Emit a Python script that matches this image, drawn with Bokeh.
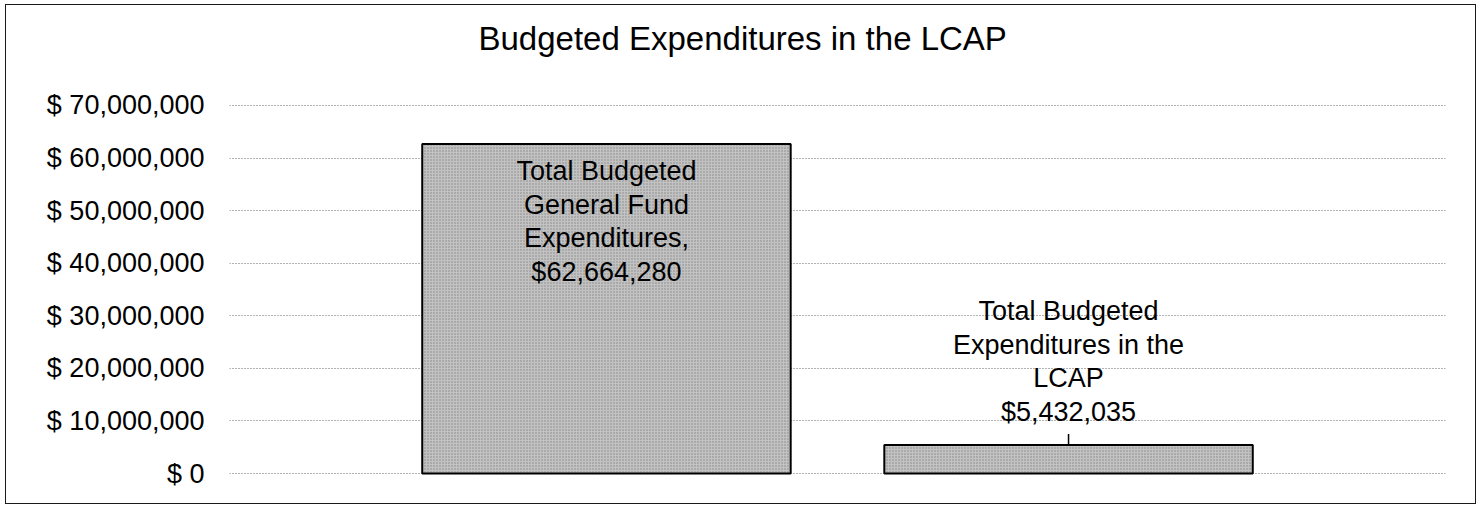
from bokeh.plotting import figure
from bokeh.models import Range1d, FixedTicker, ColumnDataSource, Title
from bokeh.core.properties import value
from bokeh.embed import file_html
from bokeh.resources import INLINE

# ---------------- data ----------------
title_text = "Budgeted Expenditures in the LCAP"
categories = ["Total Budgeted General Fund Expenditures",
              "Total Budgeted Expenditures in the LCAP"]
amounts = [62664280, 5432035]
label_lines = [["Total Budgeted", "General Fund", "Expenditures,"],
               ["Total Budgeted", "Expenditures in the", "LCAP"]]
tick_values = [0, 10000000, 20000000, 30000000, 40000000, 50000000, 60000000, 70000000]
tick_labels = ["$ 0", "$ 10,000,000", "$ 20,000,000", "$ 30,000,000",
               "$ 40,000,000", "$ 50,000,000", "$ 60,000,000", "$ 70,000,000"]

# ---------------- layout / style ----------------
W, H = 1471, 500
PAD = 2                      # px of padding above/below the 0..max grid
GRID_H = 369                 # px between $0 and the top gridline
MB_L, MB_R, MB_T = 223, 32, 97
frame_h = GRID_H + 2 * PAD
MB_B = H - MB_T - frame_h
y_max = tick_values[-1]
px_to_data = y_max / GRID_H
bar_pos = [0.31, 0.69]
bar_width = 0.303
FONT = "Liberation Sans"
label_baseline = ["top", "bottom"]
label_offset = [12, -18]
leader_px = [0, 11]

p = figure(width=W, height=H, x_range=Range1d(0, 1),
           y_range=Range1d(-PAD * px_to_data, y_max + PAD * px_to_data),
           output_backend="svg", toolbar_location=None, title_location=None,
           min_border_left=MB_L, min_border_right=MB_R,
           min_border_top=MB_T, min_border_bottom=MB_B)
p.styles = {"border": "1.5px solid #1a1a1a", "margin-left": "5px", "margin-top": "4px"}
p.outline_line_color = None
p.background_fill_color = "white"
p.border_fill_color = "white"

# spacer between title and plot area, then the title itself
p.add_layout(Title(text=" ", text_font_size="1px", standoff=32), "above")
p.add_layout(Title(text=title_text, text_font=FONT, text_font_size="33px",
                   text_font_style="normal", text_color="black",
                   align="left", offset=249, standoff=24), "above")

p.xaxis.visible = False
p.xgrid.visible = False
p.ygrid.grid_line_color = "#666666"
p.ygrid.grid_line_dash = "1 2"
p.ygrid.grid_line_width = 1

ax = p.yaxis[0]
ax.ticker = FixedTicker(ticks=tick_values)
ax.major_label_overrides = {v: t for v, t in zip(tick_values, tick_labels)}
ax.axis_line_color = None
ax.major_tick_line_color = None
ax.major_tick_out = 0
ax.major_tick_in = 0
ax.minor_tick_line_color = None
ax.major_label_standoff = 25
ax.major_label_text_font = FONT
ax.major_label_text_font_size = "27px"
ax.major_label_text_color = "black"

src = ColumnDataSource(dict(x=bar_pos, top=amounts, cat=categories))
p.vbar(x="x", top="top", bottom=0, width=bar_width, source=src,
       fill_color="#c2c2c2", line_color="black", line_width=2,
       hatch_pattern="dot", hatch_color="#6e6e6e", hatch_scale=3, hatch_alpha=0.7)

# data labels
for i, (xv, amt) in enumerate(zip(bar_pos, amounts)):
    txt = "\n".join(label_lines[i] + ["${:,}".format(amt)])
    if leader_px[i]:
        p.segment(x0=[xv], y0=[amt], x1=[xv], y1=[amt + leader_px[i] * px_to_data],
                  line_color="black", line_width=1.5)
    p.text(x=[xv], y=[amt], text=[txt], text_align="center",
           text_baseline=label_baseline[i], y_offset=label_offset[i],
           text_font=value(FONT), text_font_size="27px", text_color="black",
           text_line_height=1.12)

open("out.html", "w").write(file_html(p, INLINE))
